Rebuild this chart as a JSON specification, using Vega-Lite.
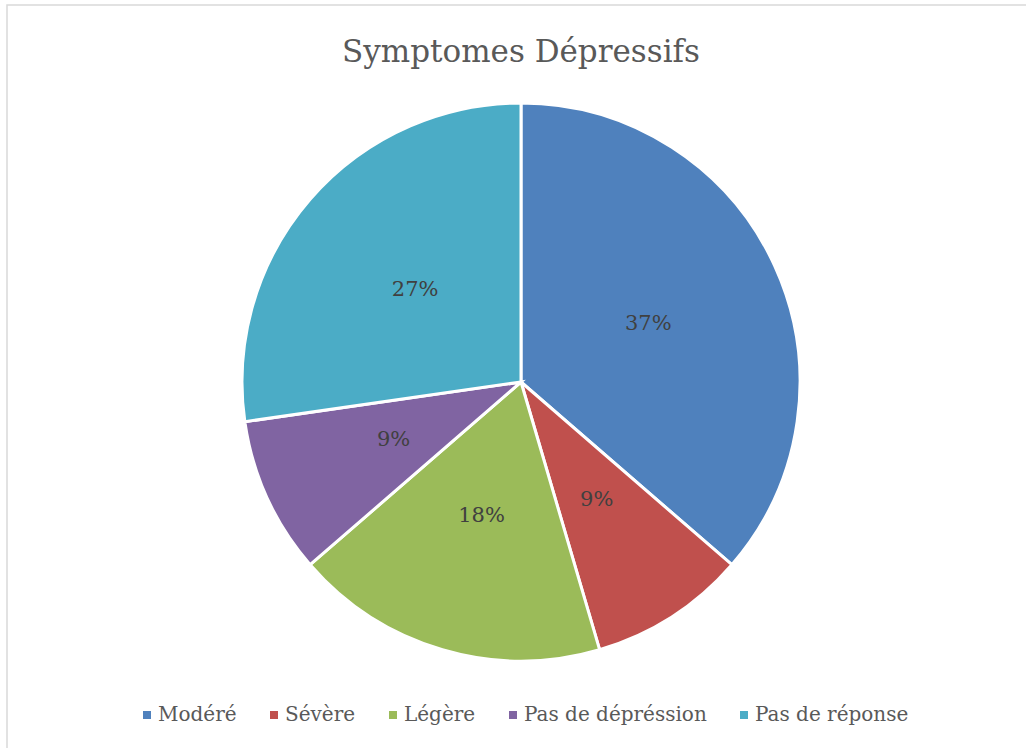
{
  "$schema": "https://vega.github.io/schema/vega-lite/v6.json",
  "autosize": {"type": "none"},
  "padding": {"left": 7, "top": 5, "right": 0, "bottom": 0},
  "width": 1028,
  "height": 754,
  "background": "white",
  "view": {"stroke": "#d9d9d9", "strokeWidth": 1.5, "fill": null},
  "config": {
    "view": {"stroke": "#d9d9d9", "strokeWidth": 1.5},
    "font": "DejaVu Serif"
  },
  "title": {
    "text": "Symptomes Dépressifs",
    "font": "DejaVu Serif",
    "fontSize": 31,
    "fontWeight": "normal",
    "color": "#595959",
    "anchor": "middle",
    "baseline": "alphabetic",
    "offset": -88
  },
  "data": {
    "values": [
      {"idx": 1, "cat": "Modéré", "n": 4, "label": "37%"},
      {"idx": 2, "cat": "Sévère", "n": 1, "label": "9%"},
      {"idx": 3, "cat": "Légère", "n": 2, "label": "18%"},
      {"idx": 4, "cat": "Pas de dépréssion", "n": 1, "label": "9%"},
      {"idx": 5, "cat": "Pas de réponse", "n": 3, "label": "27%"}
    ]
  },
  "encoding": {
    "theta": {"field": "n", "type": "quantitative", "stack": true},
    "order": {"field": "idx", "type": "quantitative"},
    "color": {
      "field": "cat",
      "type": "nominal",
      "scale": {
        "domain": ["Modéré", "Sévère", "Légère", "Pas de dépréssion", "Pas de réponse"],
        "range": ["#4F81BD", "#C0504D", "#9BBB59", "#8064A2", "#4BACC6"]
      },
      "legend": {
        "orient": "none",
        "direction": "horizontal",
        "legendX": 130,
        "legendY": 700,
        "title": null,
        "symbolType": "square",
        "symbolSize": 64,
        "symbolStrokeWidth": 0,
        "labelFont": "DejaVu Serif",
        "labelFontSize": 20,
        "labelColor": "#595959",
        "labelOffset": 1,
        "labelLimit": 400,
        "columnPadding": 27,
        "padding": 0
      }
    }
  },
  "layer": [
    {
      "mark": {"type": "arc", "outerRadius": 279, "stroke": "white", "strokeWidth": 3}
    },
    {
      "mark": {"type": "text", "radius": 140, "font": "DejaVu Serif", "fontSize": 21, "color": "#404040"},
      "encoding": {
        "text": {"field": "label", "type": "nominal"},
        "color": {"value": "#404040"}
      }
    }
  ]
}
